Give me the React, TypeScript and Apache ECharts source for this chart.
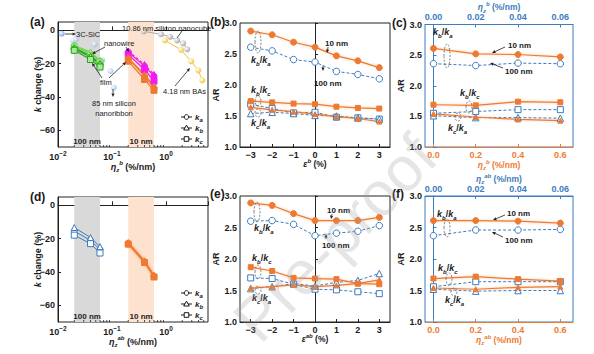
import React, { useEffect, useRef } from 'react';
import * as echarts from 'echarts';

const FONT = 'Arial, "Liberation Sans", Helvetica, sans-serif';
const ORANGE = '#EE7A32';
const BLUE = '#3C7CC0';
const GREEN = '#2A9E2A';
const GREEN_L = '#6FD64A';
const MAGENTA = '#F21CF2';
const TXT = '#1a1a1a';

// ---------- panel (a) ----------
const logMin = 0.01;
const logMax = 6;
const band100 = [0.02, 0.06];
const band10 = [0.2, 0.6];
const sicX = [0.0117];
const sicY = [-2];
const litX = [0.019, 0.0214, 0.0476, 0.066, 0.094, 0.108];
const litY = [-6.2, -5.6, -8.4, -18, -24.4, -34.4];
const cubeX = [0.39, 0.81, 1.19, 1.61, 2.08, 2.47];
const cubeY = [-0.6, -2.4, -3.9, -6, -7.8, -11.4];
const basX = [0.96, 1.9, 2.93, 3.96, 4.7];
const basY = [-6, -11.7, -18.6, -24, -30];
const a100X = [0.02, 0.04, 0.06];
const aWire100Ka = [-9.5, -14, -18.5];
const aWire100Kb = [-9, -13, -18];
const aWire100Kc = [-10, -15, -19.5];
const aFilm100Ka = [-11, -16, -20.5];
const aFilm100Kb = [-10.5, -15.5, -20];
const aFilm100Kc = [-12, -17.5, -22];
const a10X = [0.2, 0.4, 0.6];
const aWire10Ka = [-13, -21.5, -27.5];
const aWire10Kb = [-12.5, -20.5, -26.5];
const aWire10Kc = [-14.5, -23.5, -30.5];
const aFilm10Ka = [-17, -27.5, -34.5];
const aFilm10Kb = [-16.5, -26.5, -33.5];
const aFilm10Kc = [-18.5, -29.5, -36];
const kTicks = [-60, -40, -20, 0];
const legendSubs = ['a', 'b', 'c'];

// ---------- panel (b) ----------
const strainX = [-3, -2, -1, 0, 1, 2, 3];
const b10Ba = [2.87, 2.81, 2.69, 2.61, 2.47, 2.39, 2.28];
const b100Ba = [2.61, 2.55, 2.41, 2.37, 2.22, 2.17, 2.1];
const b10Bc = [1.74, 1.72, 1.7, 1.69, 1.65, 1.63, 1.62];
const b10Ca = [1.64, 1.6, 1.57, 1.53, 1.49, 1.46, 1.41];
const b100Bc = [1.69, 1.62, 1.55, 1.56, 1.48, 1.47, 1.45];
const b100Ca = [1.54, 1.56, 1.54, 1.51, 1.5, 1.47, 1.45];

// ---------- panel (c) ----------
const grad10X = [0, 0.2, 0.4, 0.6];
const grad100X = [0, 0.02, 0.04, 0.06];
const c10Ba = [2.61, 2.52, 2.51, 2.47];
const c100Ba = [2.36, 2.33, 2.37, 2.36];
const c10Bc = [1.69, 1.68, 1.74, 1.73];
const c100Bc = [1.55, 1.58, 1.61, 1.61];
const c10Ca = [1.54, 1.49, 1.45, 1.43];
const c100Ca = [1.51, 1.48, 1.48, 1.47];

// ---------- panel (d) ----------
const d100Ka = [-15.5, -21, -26.5];
const d100Kb = [-13.3, -19.3, -24.8];
const d100Kc = [-17.9, -23, -28.6];
const d10Ka = [-22.8, -33.8, -42.5];
const d10Kb = [-22.3, -33.3, -42];
const d10Kc = [-23.3, -34.3, -43];

// ---------- panel (e) ----------
const e10Ba = [2.89, 2.85, 2.72, 2.61, 2.61, 2.61, 2.66];
const e100Ba = [2.6, 2.61, 2.55, 2.37, 2.41, 2.44, 2.53];
const e10Bc = [1.87, 1.81, 1.7, 1.69, 1.68, 1.61, 1.6];
const e100Bc = [1.7, 1.69, 1.6, 1.52, 1.51, 1.48, 1.45];
const e10Ca = [1.54, 1.56, 1.59, 1.56, 1.58, 1.61, 1.67];
const e100Ca = [1.53, 1.56, 1.61, 1.57, 1.63, 1.66, 1.77];

// ---------- panel (f) ----------
const f10Ba = [2.61, 2.61, 2.6, 2.57];
const f100Ba = [2.37, 2.46, 2.46, 2.47];
const f10Bc = [1.69, 1.72, 1.68, 1.65];
const f100Bc = [1.56, 1.64, 1.64, 1.64];
const f10Ca = [1.54, 1.52, 1.55, 1.56];
const f100Ca = [1.52, 1.49, 1.5, 1.5];

const G = [
  { left: 58, top: 22, width: 150, height: 125 },
  { left: 240, top: 23, width: 150, height: 124 },
  { left: 425, top: 23, width: 148, height: 124 },
  { left: 58, top: 197, width: 150, height: 125 },
  { left: 240, top: 196, width: 150, height: 126 },
  { left: 425, top: 196, width: 148, height: 126 },
];

const rich = (color: string, size = 9) => ({
  i: { fontStyle: 'italic', fontWeight: 'bold', fontSize: size, lineHeight: size + 4, fontFamily: FONT, color },
  n: { fontWeight: 'bold', fontSize: size, lineHeight: size + 4, fontFamily: FONT, color },
  s: { fontStyle: 'italic', fontWeight: 'bold', fontSize: Math.round(size * 0.7), fontFamily: FONT, color, verticalAlign: 'bottom' },
  p: { fontStyle: 'italic', fontWeight: 'bold', fontSize: Math.round(size * 0.7), fontFamily: FONT, color, verticalAlign: 'top' },
});
const ratio = (a: string, b: string) => `{i|k}{s|${a}}{n|/}{i|k}{s|${b}}`;
const etaName = (sup: string) => `{i|η}{s|z}{p|${sup}}{n| (%/nm)}`;
const minus = (v: number) => (v < 0 ? '−' + Math.abs(v) : String(v));

function line(xi: number, yi: number, xs: number[], ys: number[], o: any) {
  return {
    type: 'line',
    xAxisIndex: xi,
    yAxisIndex: yi,
    data: xs.map((x, i) => [x, ys[i]]),
    symbol: o.symbol ?? 'circle',
    symbolSize: o.size ?? 6,
    itemStyle: { color: o.fill ?? o.color, borderColor: o.color, borderWidth: o.bw ?? 1 },
    lineStyle: {
      color: o.color,
      width: o.width ?? 1.2,
      type: o.dash ? [3, 2] : 'solid',
      shadowBlur: o.glow ? 3 : 0,
      shadowColor: o.glow ? 'rgba(238,122,50,0.45)' : 'transparent',
    },
    z: o.z ?? 3,
    silent: true,
  };
}

const orangeSet = (xi: number, yi: number, xs: number[], ba: number[], bc: number[], ca: number[]) => [
  line(xi, yi, xs, ba, { color: ORANGE, symbol: 'circle', size: 6, glow: true }),
  line(xi, yi, xs, bc, { color: ORANGE, symbol: 'rect', size: 5, glow: true }),
  line(xi, yi, xs, ca, { color: ORANGE, symbol: 'triangle', size: 5, glow: true }),
];
const blueSet = (xi: number, yi: number, xs: number[], ba: number[], bc: number[], ca: number[]) => [
  line(xi, yi, xs, ba, { color: BLUE, fill: '#fff', symbol: 'circle', size: 6.5, dash: true, width: 1 }),
  line(xi, yi, xs, bc, { color: BLUE, fill: '#fff', symbol: 'rect', size: 6, dash: true, width: 1 }),
  line(xi, yi, xs, ca, { color: BLUE, fill: '#fff', symbol: 'triangle', size: 6.5, dash: true, width: 1 }),
];

const bandLabel = (t: string) => ({
  show: true, position: 'insideBottom', distance: 2, formatter: t,
  fontSize: 8, fontWeight: 'bold', fontFamily: FONT, color: '#222',
});
const bands = (xi: number, yi: number) => ({
  type: 'line', xAxisIndex: xi, yAxisIndex: yi, data: [], silent: true, z: 1,
  markArea: {
    silent: true,
    data: [
      [{ xAxis: band100[0], itemStyle: { color: '#D9D9D9' }, label: bandLabel('100 nm') }, { xAxis: band100[1] }],
      [{ xAxis: band10[0], itemStyle: { color: '#FDE3CF' }, label: bandLabel('10 nm') }, { xAxis: band10[1] }],
    ],
  },
});

const labelBase = { fontSize: 9, fontWeight: 'bold', fontFamily: FONT, color: TXT, margin: 3 };

function logAxis(gi: number, nm: string) {
  return {
    type: 'log', gridIndex: gi, logBase: 10, min: logMin, max: logMax,
    axisLine: { show: true, lineStyle: { color: '#222' } },
    axisTick: { show: true, inside: true, length: 4, lineStyle: { color: '#222' } },
    splitLine: { show: false },
    axisLabel: {
      ...labelBase, lineHeight: 13,
      formatter: (v: number) => {
        const e = Math.log10(v);
        if (Math.abs(e - Math.round(e)) > 1e-6) return '';
        return '10{p|' + minus(Math.round(e)) + '}';
      },
      rich: { p: { fontSize: 6.5, fontWeight: 'bold', fontFamily: FONT, color: TXT, verticalAlign: 'top' } },
    },
    name: nm, nameLocation: 'middle', nameGap: 13, nameMoveOverlap: false,
    nameTextStyle: { rich: rich(TXT, 9) },
  };
}
function valX(gi: number, min: number, max: number, ticks: number[], fmt: (v: number) => string, color: string, nm: string, pos = 'bottom', gap = 12) {
  return {
    type: 'value', gridIndex: gi, min, max, position: pos,
    axisLine: { show: true, lineStyle: { color } },
    axisTick: { show: true, inside: true, length: 3, customValues: ticks, lineStyle: { color } },
    splitLine: { show: false },
    axisLabel: { ...labelBase, color: color === '#222' ? TXT : color, customValues: ticks, formatter: fmt },
    name: nm, nameLocation: 'middle', nameGap: gap, nameMoveOverlap: false,
    nameTextStyle: { rich: rich(color === '#222' ? TXT : color, 8.5) },
  };
}
function arAxis(gi: number, gap: number, color = '#222', pad: number[] = [0, 0, 0, 0]) {
  return {
    type: 'value', gridIndex: gi, min: 1, max: 3, interval: 0.5,
    axisLine: { show: true, lineStyle: { color } },
    axisTick: { show: true, inside: true, length: 3, lineStyle: { color } },
    splitLine: { show: false },
    axisLabel: { ...labelBase, formatter: (v: number) => v.toFixed(1) },
    name: 'AR', nameLocation: 'middle', nameGap: gap,
    nameTextStyle: { fontSize: 9, fontWeight: 'bold', fontFamily: FONT, color: TXT, padding: pad },
  };
}
function kAxis(gi: number) {
  return {
    type: 'value', gridIndex: gi, min: -70, max: 5,
    axisLine: { show: true, lineStyle: { color: '#222' } },
    axisTick: { show: true, inside: true, length: 3, customValues: kTicks, lineStyle: { color: '#222' } },
    splitLine: { show: false },
    axisLabel: { ...labelBase, customValues: kTicks, formatter: minus },
    name: '{i|k}{n| change (%)}', nameLocation: 'middle', nameGap: 14, nameMoveOverlap: false,
    nameTextStyle: { rich: rich(TXT, 9) },
  };
}

function txt(x: number, y: number, text: string, o: any = {}) {
  return {
    type: 'text', x, y, silent: true, z: 100,
    style: {
      text, fontSize: o.size ?? 7.5, fontFamily: FONT, fontWeight: o.bold ? 'bold' : 'normal',
      fill: o.color ?? TXT, align: o.align ?? 'left', verticalAlign: 'middle',
      textAlign: o.align ?? 'left', textVerticalAlign: 'middle', rich: o.rich,
    },
  };
}
function arrow(x1: number, y1: number, x2: number, y2: number) {
  const a = Math.atan2(y2 - y1, x2 - x1);
  const L = 3.5, W = 1.6;
  const bx = x2 - L * Math.cos(a), by = y2 - L * Math.sin(a);
  return [
    { type: 'line', silent: true, z: 100, shape: { x1, y1, x2: bx, y2: by }, style: { stroke: '#222', lineWidth: 0.8 } },
    { type: 'polygon', silent: true, z: 100, shape: { points: [[x2, y2], [bx + W * Math.sin(a), by - W * Math.cos(a)], [bx - W * Math.sin(a), by + W * Math.cos(a)]] }, style: { fill: '#222' } },
  ];
}
function ell(cx: number, cy: number, rx: number, ry: number) {
  return { type: 'ellipse', silent: true, z: 100, shape: { cx, cy, rx, ry }, style: { fill: 'none', stroke: '#666', lineWidth: 0.8, lineDash: [2, 1.5] } };
}
// hand-drawn key: line with hollow marker + k_x label
function keyItem(x: number, y: number, k: number) {
  const st = { fill: '#fff', stroke: '#000', lineWidth: 0.9 };
  const els: any[] = [{ type: 'line', silent: true, z: 100, shape: { x1: x, y1: y, x2: x + 11, y2: y }, style: { stroke: '#000', lineWidth: 0.9 } }];
  const cx = x + 5.5;
  if (k === 0) els.push({ type: 'circle', silent: true, z: 101, shape: { cx, cy: y, r: 2.3 }, style: st });
  if (k === 1) els.push({ type: 'polygon', silent: true, z: 101, shape: { points: [[cx, y - 2.8], [cx - 2.8, y + 2], [cx + 2.8, y + 2]] }, style: st });
  if (k === 2) els.push({ type: 'rect', silent: true, z: 101, shape: { x: cx - 2.3, y: y - 2.3, width: 4.6, height: 4.6 }, style: st });
  els.push(txt(x + 14, y, `{i|k}{s|${legendSubs[k]}}`, { rich: rich(TXT, 8) }));
  return els;
}
const R = rich(TXT, 9);

export default function App() {
  const ref = useRef<HTMLDivElement>(null);
  useEffect(() => {
    if (!ref.current) return;
    const chart = echarts.init(ref.current, undefined, { renderer: 'svg' });
    const litBall = (c: string) => new echarts.graphic.RadialGradient(0.35, 0.35, 0.75, [
      { offset: 0, color: '#ffffff' }, { offset: 1, color: c },
    ]);
    const series: any[] = [
      bands(0, 0),
      bands(4, 3),
      // (a) literature
      { type: 'scatter', xAxisIndex: 0, yAxisIndex: 0, data: sicX.map((x, i) => [x, sicY[i]]), symbolSize: 6, itemStyle: { color: litBall('#3f86dc') }, z: 4, silent: true },
      { type: 'scatter', xAxisIndex: 0, yAxisIndex: 0, data: litX.map((x, i) => [x, litY[i]]), symbolSize: 6, itemStyle: { color: litBall('#8fb0e6'), opacity: 0.85 }, z: 2, silent: true },
      line(0, 0, cubeX, cubeY, { color: '#a8a8a8', fill: litBall('#9c9c9c'), symbol: 'circle', size: 6, width: 1, bw: 0 }),
      line(0, 0, basX, basY, { color: '#F2C12E', fill: litBall('#F0BE20'), symbol: 'circle', size: 6, width: 1, bw: 0 }),
      // (a) 100 nm green
      line(0, 0, a100X, aWire100Ka, { color: GREEN_L, fill: '#c8f5b0', symbol: 'circle', size: 6 }),
      line(0, 0, a100X, aWire100Kb, { color: GREEN_L, fill: '#c8f5b0', symbol: 'triangle', size: 6 }),
      line(0, 0, a100X, aWire100Kc, { color: GREEN_L, fill: '#c8f5b0', symbol: 'rect', size: 6 }),
      line(0, 0, a100X, aFilm100Ka, { color: GREEN, fill: '#a9ec8f', symbol: 'circle', size: 6 }),
      line(0, 0, a100X, aFilm100Kb, { color: GREEN, fill: '#a9ec8f', symbol: 'triangle', size: 6 }),
      line(0, 0, a100X, aFilm100Kc, { color: GREEN, fill: '#a9ec8f', symbol: 'rect', size: 6 }),
      // (a) 10 nm
      line(0, 0, a10X, aWire10Ka, { color: MAGENTA, symbol: 'circle', size: 6 }),
      line(0, 0, a10X, aWire10Kb, { color: MAGENTA, symbol: 'triangle', size: 6, dash: true }),
      line(0, 0, a10X, aWire10Kc, { color: MAGENTA, symbol: 'rect', size: 6 }),
      line(0, 0, a10X, aFilm10Ka, { color: ORANGE, symbol: 'circle', size: 6 }),
      line(0, 0, a10X, aFilm10Kb, { color: ORANGE, symbol: 'triangle', size: 6 }),
      line(0, 0, a10X, aFilm10Kc, { color: ORANGE, symbol: 'rect', size: 6 }),
      // (b)
      ...blueSet(1, 1, strainX, b100Ba, b100Bc, b100Ca),
      ...orangeSet(1, 1, strainX, b10Ba, b10Bc, b10Ca),
      // (c)
      ...blueSet(3, 2, grad100X, c100Ba, c100Bc, c100Ca),
      ...orangeSet(2, 2, grad10X, c10Ba, c10Bc, c10Ca),
      // (d)
      line(4, 3, a100X, d100Ka, { color: BLUE, fill: '#fff', symbol: 'circle', size: 6, width: 1 }),
      line(4, 3, a100X, d100Kb, { color: BLUE, fill: '#fff', symbol: 'triangle', size: 6, width: 1 }),
      line(4, 3, a100X, d100Kc, { color: BLUE, fill: '#fff', symbol: 'rect', size: 6, width: 1 }),
      line(4, 3, a10X, d10Ka, { color: ORANGE, symbol: 'circle', size: 6, glow: true }),
      line(4, 3, a10X, d10Kb, { color: ORANGE, symbol: 'triangle', size: 6, glow: true }),
      line(4, 3, a10X, d10Kc, { color: ORANGE, symbol: 'rect', size: 6, glow: true }),
      // (e)
      ...blueSet(5, 4, strainX, e100Ba, e100Bc, e100Ca),
      ...orangeSet(5, 4, strainX, e10Ba, e10Bc, e10Ca),
      // (f)
      ...blueSet(7, 5, grad100X, f100Ba, f100Bc, f100Ca),
      ...orangeSet(6, 5, grad10X, f10Ba, f10Bc, f10Ca),
    ];

    const option: any = {
      animation: false,
      backgroundColor: '#ffffff',
      textStyle: { fontFamily: FONT },
      grid: G.map((g, i) => ({ ...g, show: true, borderColor: i === 2 || i === 5 ? BLUE : '#222', borderWidth: 1, backgroundColor: 'transparent' })),
      xAxis: [
        logAxis(0, etaName('b')),
        valX(1, -3.5, 3.5, strainX, minus, '#222', '{i|ε}{p|b}{n| (%)}', 'bottom', 11),
        valX(2, -0.04, 0.66, grad10X, (v) => v.toFixed(1), ORANGE, etaName('b'), 'bottom', 11.5),
        valX(2, -0.004, 0.066, grad100X, (v) => v.toFixed(2), BLUE, etaName('b'), 'top', 11),
        logAxis(3, etaName('ab')),
        valX(4, -3.5, 3.5, strainX, minus, '#222', '{i|ε}{p|ab}{n| (%)}', 'bottom', 11),
        valX(5, -0.04, 0.66, grad10X, (v) => v.toFixed(1), ORANGE, etaName('ab'), 'bottom', 11.5),
        valX(5, -0.004, 0.066, grad100X, (v) => v.toFixed(2), BLUE, etaName('ab'), 'top', 11),
      ],
      yAxis: [kAxis(0), arAxis(1, 10, '#222', [0, 20, 0, 0]), arAxis(2, 14, BLUE), kAxis(3), arAxis(4, 14), arAxis(5, 17, BLUE)],
      series,
    };
    chart.setOption(option);

    const g: any[] = [];
    // panel labels
    [[30, 22, '(a)'], [210, 22, '(b)'], [392, 23, '(c)'], [30, 197, '(d)'], [210, 194, '(e)'], [392, 194, '(f)']].forEach(
      ([x, y, t]) => g.push(txt(x as number, y as number, t as string, { size: 12, bold: true }))
    );
    // keys in (a) and (d)
    [117, 128, 139].forEach((y, k) => g.push(...keyItem(181, y, k)));
    [293, 304, 315].forEach((y, k) => g.push(...keyItem(181, y, k)));
    // (a) annotations
    g.push(txt(76, 34, '3C-SiC'), ...arrow(65, 34, 76, 34));
    g.push(txt(122, 28, '10.86 nm silicon nanocube'));
    g.push({ type: 'line', silent: true, z: 100, shape: { x1: 182, y1: 31, x2: 177, y2: 38 }, style: { stroke: '#222', lineWidth: 0.8 } });
    g.push(txt(163, 91, '4.18 nm BAs'), ...arrow(175, 86, 190, 68));
    g.push(txt(104, 43, 'nanowire'), ...arrow(105, 47, 92, 54), ...arrow(126, 47, 129, 52));
    g.push(txt(100, 82, 'film'), ...arrow(102, 78, 92, 63), ...arrow(109, 78, 126, 62));
    g.push(txt(114, 103, '85 nm silicon', { align: 'center' }), txt(114, 113, 'nanoribbon', { align: 'center' }), ...arrow(113, 89, 113, 97));
    // (b)
    g.push(txt(325, 43, '10 nm', { bold: true, size: 8 }), ...arrow(328, 47, 327, 53));
    g.push(txt(314, 83, '100 nm', { bold: true, size: 8 }), ...arrow(323, 66, 323, 71));
    g.push(txt(251, 60, ratio('b', 'a'), { rich: R }), ell(258, 42, 3, 11));
    g.push(txt(251, 90, ratio('b', 'c'), { rich: R }), ell(258, 101, 3, 5));
    g.push(txt(251, 123, ratio('c', 'a'), { rich: R }), ell(258, 113, 3, 4));
    // (c)
    g.push(txt(433, 32, ratio('b', 'a'), { rich: R }), ell(447, 56, 3, 12));
    g.push(txt(508, 45, '10 nm', { bold: true, size: 8 }), ...arrow(505, 47, 492, 53));
    g.push(txt(505, 71, '100 nm', { bold: true, size: 8 }), ...arrow(503, 68, 490, 63));
    g.push(txt(460, 93, ratio('b', 'c'), { rich: R }), ell(469, 107, 3, 6));
    g.push(txt(448, 128, ratio('c', 'a'), { rich: R }), ell(458, 117, 3, 4));
    // (e)
    g.push(txt(327, 210, '10 nm', { bold: true, size: 8 }), ...arrow(332, 214, 331, 219));
    g.push(txt(322, 245, '100 nm', { bold: true, size: 8 }), ...arrow(326, 239, 326, 234));
    g.push(txt(254, 228, ratio('b', 'a'), { rich: R }), ell(257, 212, 3, 10));
    g.push(txt(252, 258, ratio('b', 'c'), { rich: R }), ell(258, 272, 3, 7));
    g.push(txt(252, 298, ratio('c', 'a'), { rich: R }), ell(258, 290, 3, 4));
    // (f)
    g.push(txt(437, 214, ratio('b', 'a'), { rich: R }), ell(447, 228, 3, 9));
    g.push(txt(507, 213, '10 nm', { bold: true, size: 8 }), ...arrow(505, 215, 493, 220));
    g.push(txt(505, 240, '100 nm', { bold: true, size: 8 }), ...arrow(503, 237, 492, 232));
    g.push(txt(438, 268, ratio('b', 'c'), { rich: R }), ell(449, 279, 3, 6));
    g.push(txt(445, 300, ratio('c', 'a'), { rich: R }), ell(454, 292, 3, 4));
    // minor ticks on log axes
    [[0, G[0]], [4, G[3]]].forEach(([xi, gr]: any) => {
      for (const d of [0.01, 0.1, 1]) {
        for (let m = 2; m <= 9; m++) {
          const v = m * d;
          if (v >= logMax) continue;
          const px = chart.convertToPixel({ xAxisIndex: xi } as any, v) as unknown as number;
          const yb = gr.top + gr.height;
          g.push({ type: 'line', silent: true, z: 50, shape: { x1: px, y1: yb, x2: px, y2: yb - 2 }, style: { stroke: '#222', lineWidth: 0.8 } });
        }
      }
    });
    // watermark
    g.push({
      type: 'text', x: 335, y: 238, rotation: 0.8, silent: true, z: 200,
      style: {
        text: 'Pre-proof', fontSize: 62, fontFamily: FONT, fill: 'rgba(160,160,160,0.28)',
        align: 'center', verticalAlign: 'middle', textAlign: 'center', textVerticalAlign: 'middle',
      },
    });
    chart.setOption({ graphic: { elements: g } });
    return () => chart.dispose();
  }, []);
  return <div ref={ref} style={{ position: 'fixed', left: 0, top: 0, width: 594, height: 354 }} />;
}
